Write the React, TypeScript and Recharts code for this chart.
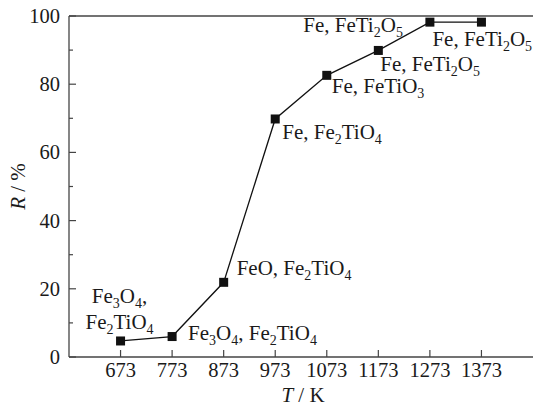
import React from "react";
import { LineChart, Line, XAxis, YAxis, ReferenceLine, LabelList } from "recharts";

// temperature (K) and reduction degree R (%)
const temps = [673, 773, 873, 973, 1073, 1173, 1273, 1373];
const recovery = [4.7, 6.0, 21.9, 69.8, 82.6, 89.9, 98.2, 98.2];
// phase labels, "_n" = subscript
const phases = [
  ["Fe_3O_4,", "Fe_2TiO_4"],
  ["Fe_3O_4, Fe_2TiO_4"],
  ["FeO, Fe_2TiO_4"],
  ["Fe, Fe_2TiO_4"],
  ["Fe, FeTiO_3"],
  ["Fe, FeTi_2O_5"],
  ["Fe, FeTi_2O_5"],
  ["Fe, FeTi_2O_5"],
];
const xTicks = [673, 773, 873, 973, 1073, 1173, 1273, 1373];
const yTicks = [0, 10, 20, 30, 40, 50, 60, 70, 80, 90, 100];

const data = temps.map((t, i) => ({ t, r: recovery[i], idx: i }));

// where each phase label sits relative to its point
const labelPos = [
  { dx: -1, dy: [-38, -12], anchor: "middle" },
  { dx: 16, dy: [3], anchor: "start" },
  { dx: 13, dy: [-7], anchor: "start" },
  { dx: 7, dy: [20], anchor: "start" },
  { dx: 5, dy: [18], anchor: "start" },
  { dx: 2, dy: [21], anchor: "start" },
  { dx: -27, dy: [10], anchor: "end" },
  { dx: -49, dy: [24], anchor: "start" },
];

const FONT = "'Liberation Serif', 'Times New Roman', serif";
const INK = "#1a1a1a";
const AXIS = "#444";

const chem = (s: string) => {
  const parts = s.split(/_(\d)/);
  const out: React.ReactNode[] = [];
  let wasSub = false;
  parts.forEach((p, i) => {
    if (!p) return;
    if (i % 2 === 1) {
      out.push(<tspan key={i} dy={5} fontSize={14}>{p}</tspan>);
      wasSub = true;
    } else {
      out.push(<tspan key={i} dy={wasSub ? -5 : 0}>{p}</tspan>);
      wasSub = false;
    }
  });
  return out;
};

const PhaseLabel = (props: any) => {
  const { x, y, value } = props;
  const i = value as number;
  const pos = labelPos[i];
  return (
    <g>
      {phases[i].map((line, k) => (
        <text key={k} x={x + pos.dx} y={y + pos.dy[k]} textAnchor={pos.anchor as any}
          fontFamily={FONT} fontSize={21} fill={INK}>
          {chem(line)}
        </text>
      ))}
    </g>
  );
};

const SquareDot = (p: any) => (
  <rect key={`d-${p.index}`} x={p.cx - 4.5} y={p.cy - 4.5} width={9} height={9} fill="#111" />
);

const YTick = (p: any) => {
  const { x, y, payload } = p;
  const major = payload.value % 20 === 0;
  return (
    <g>
      <line x1={x} x2={x + (major ? 7 : 4)} y1={y} y2={y} stroke={AXIS} strokeWidth={1.2} />
      {major && (
        <text x={x - 9} y={y} dy={7} textAnchor="end" fontFamily={FONT} fontSize={20.5} fill={INK}>
          {payload.value}
        </text>
      )}
    </g>
  );
};

const XTick = (p: any) => {
  const { x, y, payload } = p;
  return (
    <g>
      <line x1={x} x2={x} y1={y} y2={y - 7} stroke={AXIS} strokeWidth={1.2} />
      <text x={x} y={y + 20} textAnchor="middle" fontFamily={FONT} fontSize={20.5} fill={INK}>
        {payload.value}
      </text>
    </g>
  );
};

const XTitle = (p: any) => {
  const vb = p.viewBox;
  return (
    <text x={vb.x + vb.width / 2 + 2} y={vb.y + 45} textAnchor="middle" fontFamily={FONT} fontSize={21} fill={INK}>
      <tspan fontStyle="italic">T</tspan>
      <tspan> / K</tspan>
    </text>
  );
};

const YTitle = (p: any) => {
  const vb = p.viewBox;
  const cx = 18;
  const cy = vb.y + vb.height / 2;
  return (
    <text x={cx} y={cy} dy={7} textAnchor="middle" transform={`rotate(-90 ${cx} ${cy})`}
      fontFamily={FONT} fontSize={21} fill={INK}>
      <tspan fontStyle="italic">R</tspan>
      <tspan> / %</tspan>
    </text>
  );
};

export default function App() {
  return (
    <div style={{ position: "absolute", left: 0, top: 0, background: "#fff" }}>
      <LineChart width={533} height={408} data={data} margin={{ top: 16, right: 0, bottom: 0, left: 0 }}>
        <XAxis
          dataKey="t"
          type="number"
          domain={[573, 1473]}
          ticks={xTicks}
          height={51}
          tickSize={0}
          tickMargin={0}
          tickLine={false}
          tick={<XTick />}
          axisLine={{ stroke: AXIS, strokeWidth: 1.3 }}
          label={<XTitle />}
        />
        <YAxis
          type="number"
          domain={[0, 100]}
          ticks={yTicks}
          width={69}
          tickSize={0}
          tickMargin={0}
          tickLine={false}
          tick={<YTick />}
          interval={0}
          axisLine={{ stroke: AXIS, strokeWidth: 1.3 }}
          label={<YTitle />}
        />
        <ReferenceLine y={100} stroke={AXIS} strokeWidth={1.3} />
        <Line
          dataKey="r"
          stroke="#111"
          strokeWidth={1.3}
          dot={<SquareDot />}
          activeDot={false}
          isAnimationActive={false}
        >
          <LabelList dataKey="idx" content={<PhaseLabel />} />
        </Line>
      </LineChart>
    </div>
  );
}
